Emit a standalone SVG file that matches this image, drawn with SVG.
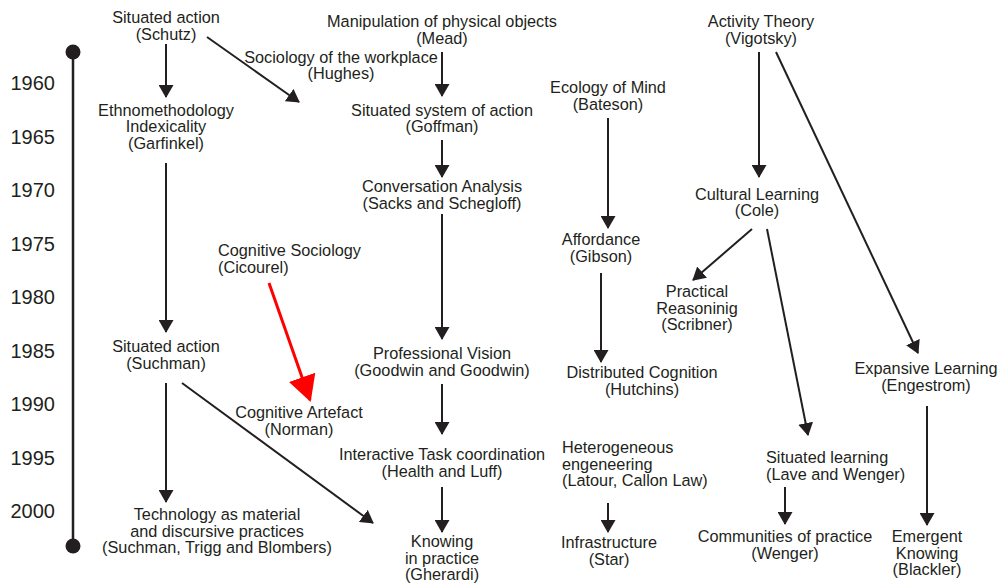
<svg xmlns="http://www.w3.org/2000/svg" width="1004" height="584" viewBox="0 0 1004 584">
  <style>
    .lbl { font-family: "Liberation Sans", Arial, sans-serif; font-size: 16.3px; fill: #231f20; text-anchor: middle; }
    .lbl.left { text-anchor: start; }
    .year { font-family: "Liberation Sans", Arial, sans-serif; font-size: 20px; fill: #231f20; text-anchor: end; }
    .edge { stroke: #231f20; stroke-width: 2; fill: none; marker-end: url(#arrow); }
    .edge.red { stroke: #ff0000; stroke-width: 3; marker-end: url(#arrow-red); }
  </style>
  <defs>
    <marker id="arrow" viewBox="0 0 13 15" refX="12" refY="7.5" markerWidth="13" markerHeight="15" markerUnits="userSpaceOnUse" orient="auto">
      <path d="M0,0 L13,7.5 L0,15 z" fill="#231f20"/>
    </marker>
    <marker id="arrow-red" viewBox="0 0 26 28" refX="24" refY="14" markerWidth="26" markerHeight="28" markerUnits="userSpaceOnUse" orient="auto">
      <path d="M0,0 L26,14 L0,28 z" fill="#ff0000"/>
    </marker>
  </defs>

  <rect width="1004" height="584" fill="#ffffff"/>

  <!-- timeline axis -->
  <g id="timeline">
    <line x1="73" y1="52" x2="73" y2="546" stroke="#231f20" stroke-width="2.5"/>
    <circle cx="73" cy="52" r="7.5" fill="#231f20"/>
    <circle cx="73" cy="546" r="7.5" fill="#231f20"/>
    <text class="year" x="55" y="90">1960</text>
    <text class="year" x="55" y="143.5">1965</text>
    <text class="year" x="55" y="197">1970</text>
    <text class="year" x="55" y="250.5">1975</text>
    <text class="year" x="55" y="304">1980</text>
    <text class="year" x="55" y="357.5">1985</text>
    <text class="year" x="55" y="411">1990</text>
    <text class="year" x="55" y="464.5">1995</text>
    <text class="year" x="55" y="518">2000</text>
  </g>

  <!-- connectors -->
  <g id="connectors">
    <path class="edge" d="M166,44 L166,97"/>
    <path class="edge" d="M207,37 L299,102"/>
    <path class="edge" d="M442,52 L442,96"/>
    <path class="edge" d="M442,140 L442,177"/>
    <path class="edge" d="M442,214 L442,339"/>
    <path class="edge" d="M442,384 L442,434"/>
    <path class="edge" d="M442,487 L442,532"/>
    <path class="edge" d="M608,118 L608,228"/>
    <path class="edge" d="M601,273 L601,362"/>
    <path class="edge" d="M608,503 L608,532"/>
    <path class="edge" d="M759,52 L759,177"/>
    <path class="edge" d="M776,52 L918,353"/>
    <path class="edge" d="M752,229 L693,280"/>
    <path class="edge" d="M767,229 L808,435"/>
    <path class="edge" d="M927,406 L927,525"/>
    <path class="edge" d="M785,487 L785,524"/>
    <path class="edge" d="M166,163 L166,332"/>
    <path class="edge" d="M166,383 L166,502"/>
    <path class="edge" d="M182,383 L373,523"/>
    <path class="edge red" d="M269,283 L310,400"/>
  </g>

  <!-- nodes -->
  <g id="schutz">
    <text class="lbl" x="166" y="23">Situated action</text>
    <text class="lbl" x="166" y="39.5">(Schutz)</text>
  </g>
  <g id="hughes">
    <text class="lbl" x="341" y="63">Sociology of the workplace</text>
    <text class="lbl" x="341" y="79">(Hughes)</text>
  </g>
  <g id="mead">
    <text class="lbl" x="442" y="27">Manipulation of physical objects</text>
    <text class="lbl" x="442" y="43.5">(Mead)</text>
  </g>
  <g id="goffman">
    <text class="lbl" x="442" y="115.5">Situated system of action</text>
    <text class="lbl" x="442" y="132">(Goffman)</text>
  </g>
  <g id="sacks">
    <text class="lbl" x="442" y="192">Conversation Analysis</text>
    <text class="lbl" x="442" y="208.5">(Sacks and Schegloff)</text>
  </g>
  <g id="goodwin">
    <text class="lbl" x="442" y="359">Professional Vision</text>
    <text class="lbl" x="442" y="375.5">(Goodwin and Goodwin)</text>
  </g>
  <g id="heath">
    <text class="lbl" x="442" y="460">Interactive Task coordination</text>
    <text class="lbl" x="442" y="476.5">(Health and Luff)</text>
  </g>
  <g id="gherardi">
    <text class="lbl" x="442" y="547">Knowing</text>
    <text class="lbl" x="442" y="563.5">in practice</text>
    <text class="lbl" x="442" y="580">(Gherardi)</text>
  </g>
  <g id="bateson">
    <text class="lbl" x="608" y="93">Ecology of Mind</text>
    <text class="lbl" x="608" y="109.5">(Bateson)</text>
  </g>
  <g id="gibson">
    <text class="lbl" x="601" y="245">Affordance</text>
    <text class="lbl" x="601" y="261.5">(Gibson)</text>
  </g>
  <g id="hutchins">
    <text class="lbl" x="642" y="378">Distributed Cognition</text>
    <text class="lbl" x="642" y="394.5">(Hutchins)</text>
  </g>
  <g id="latour">
    <text class="lbl left" x="562" y="453">Heterogeneous</text>
    <text class="lbl left" x="562" y="469.5">engeneering</text>
    <text class="lbl left" x="562" y="486">(Latour, Callon Law)</text>
  </g>
  <g id="star">
    <text class="lbl" x="609" y="548">Infrastructure</text>
    <text class="lbl" x="609" y="564.5">(Star)</text>
  </g>
  <g id="vigotsky">
    <text class="lbl" x="761" y="27">Activity Theory</text>
    <text class="lbl" x="761" y="43.5">(Vigotsky)</text>
  </g>
  <g id="cole">
    <text class="lbl" x="757" y="199.5">Cultural Learning</text>
    <text class="lbl" x="757" y="216">(Cole)</text>
  </g>
  <g id="scribner">
    <text class="lbl" x="697" y="297">Practical</text>
    <text class="lbl" x="697" y="313.5">Reasoninig</text>
    <text class="lbl" x="697" y="330">(Scribner)</text>
  </g>
  <g id="engestrom">
    <text class="lbl" x="926" y="374">Expansive Learning</text>
    <text class="lbl" x="926" y="390.5">(Engestrom)</text>
  </g>
  <g id="lave-wenger">
    <text class="lbl left" x="766" y="463">Situated learning</text>
    <text class="lbl left" x="766" y="479.5">(Lave and Wenger)</text>
  </g>
  <g id="wenger">
    <text class="lbl" x="785" y="542">Communities of practice</text>
    <text class="lbl" x="785" y="558.5">(Wenger)</text>
  </g>
  <g id="blackler">
    <text class="lbl" x="927" y="542">Emergent</text>
    <text class="lbl" x="927" y="558.5">Knowing</text>
    <text class="lbl" x="927" y="575">(Blackler)</text>
  </g>
  <g id="garfinkel">
    <text class="lbl" x="166" y="115.5">Ethnomethodology</text>
    <text class="lbl" x="166" y="132">Indexicality</text>
    <text class="lbl" x="166" y="148.5">(Garfinkel)</text>
  </g>
  <g id="suchman">
    <text class="lbl" x="166" y="352">Situated action</text>
    <text class="lbl" x="166" y="368.5">(Suchman)</text>
  </g>
  <g id="suchman-trigg">
    <text class="lbl" x="217" y="520">Technology as material</text>
    <text class="lbl" x="217" y="536.5">and discursive practices</text>
    <text class="lbl" x="217" y="553">(Suchman, Trigg and Blombers)</text>
  </g>
  <g id="cicourel">
    <text class="lbl left" x="218" y="256">Cognitive Sociology</text>
    <text class="lbl left" x="218" y="272.5">(Cicourel)</text>
  </g>
  <g id="norman">
    <text class="lbl" x="299" y="418">Cognitive Artefact</text>
    <text class="lbl" x="299" y="434.5">(Norman)</text>
  </g>
</svg>
